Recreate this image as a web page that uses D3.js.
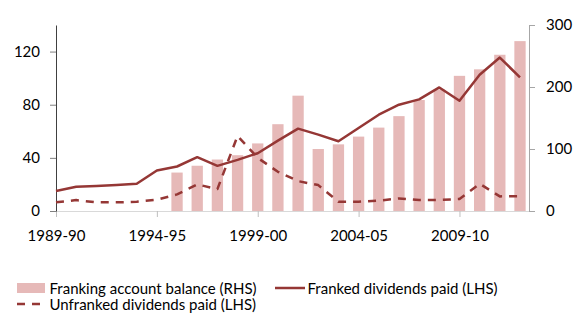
<!DOCTYPE html>
<html>
<head>
<meta charset="utf-8">
<script src="https://cdn.jsdelivr.net/npm/d3@7/dist/d3.min.js"></script>
<style>
  html, body { margin: 0; padding: 0; background: #fff; }
  svg { display: block; }
  text { font-family: Lato, "Open Sans", sans-serif; fill: #000; }
</style>
</head>
<body>
<svg id="chart" width="584" height="324"></svg>
<script>
// ---- Data ----
const categories = ["1989-90","1990-91","1991-92","1992-93","1993-94","1994-95","1995-96","1996-97",
  "1997-98","1998-99","1999-00","2000-01","2001-02","2002-03","2003-04","2004-05","2005-06",
  "2006-07","2007-08","2008-09","2009-10","2010-11","2011-12","2012-13"];
// Franking account balance (RHS), $b — no data before 1995-96
const frankingBalance = [null,null,null,null,null,null,62,73,83,90,109,140,186,100,107.5,120,134.5,153,179,196,218,228.5,252,274];
// Franked dividends paid (LHS), $b
const frankedDividends = [15,18.2,18.8,19.6,20.5,30.5,33.5,40.5,34,38.5,43.5,53,62,57.5,52.5,62.5,72.5,80,84,93,83,102.5,115.5,100.5];
// Unfranked dividends paid (LHS), $b
const unfrankedDividends = [6.5,8.2,6.5,6.5,7,8.5,12.5,20,16.5,56.5,40,29.5,22.5,19.5,7,7,7.8,9.5,8.3,8.3,9,20.5,11,11.2];
const xTickLabels = ["1989-90","1994-95","1999-00","2004-05","2009-10"];
const leftTicks = [0,40,80,120];
const rightTicks = [0,100,200,300];

// ---- Layout ----
const pLeft = 56, pRight = 529, pTop = 25, pBottom = 211;
const barColor = "#e6b9b8", lineColor = "#953735";

const svg = d3.select("#chart");

const x = d3.scalePoint().domain(categories).range([pLeft, 520]);
const yL = d3.scaleLinear().domain([0, 140]).range([pBottom, pTop]);
const yR = d3.scaleLinear().domain([0, 300]).range([pBottom, pTop]);
const barW = x.step() * 0.56;

// Bars
svg.append("g").selectAll("rect")
  .data(categories.map((c, i) => ({c, v: frankingBalance[i]})).filter(d => d.v != null))
  .join("rect")
  .attr("x", d => x(d.c) - barW / 2)
  .attr("y", d => yR(d.v))
  .attr("width", barW)
  .attr("height", d => yR(0) - yR(d.v))
  .attr("fill", barColor);

// Bottom axis
const xAxis = svg.append("g").attr("transform", `translate(0,${pBottom})`)
  .call(d3.axisBottom(x).tickValues(xTickLabels).tickSize(6).tickSizeOuter(0).tickPadding(13));
xAxis.select(".domain").attr("stroke", "#d9d9d9").attr("d", `M${pLeft},0.5H${pRight}`);
xAxis.selectAll(".tick line").attr("stroke", "#bfbfbf");
xAxis.selectAll(".tick text").attr("font-size", 15).attr("fill", "#000");

// Left axis
const yAxisL = svg.append("g").attr("transform", `translate(${pLeft},0)`)
  .call(d3.axisLeft(yL).tickValues(leftTicks).tickSize(6).tickSizeOuter(0).tickPadding(10));
yAxisL.select(".domain").attr("stroke", "#404040");
yAxisL.selectAll(".tick line").attr("stroke", "#808080");
yAxisL.selectAll(".tick text").attr("font-size", 15).attr("fill", "#000");

// Right axis
const yAxisR = svg.append("g").attr("transform", `translate(${pRight},0)`)
  .call(d3.axisRight(yR).tickValues(rightTicks).tickSize(6).tickSizeOuter(0).tickPadding(11));
yAxisR.select(".domain").attr("stroke", "#a6a6a6");
yAxisR.selectAll(".tick line").attr("stroke", "#a6a6a6");
yAxisR.selectAll(".tick text").attr("font-size", 15).attr("fill", "#000");

// Lines
const lineL = d3.line().x((d, i) => x(categories[i])).y(d => yL(d));
svg.append("path").datum(frankedDividends)
  .attr("d", lineL).attr("fill", "none").attr("stroke", lineColor).attr("stroke-width", 2.5)
  .attr("stroke-linejoin", "round");
svg.append("path").datum(unfrankedDividends)
  .attr("d", lineL).attr("fill", "none").attr("stroke", lineColor).attr("stroke-width", 2.5)
  .attr("stroke-dasharray", "8,7").attr("stroke-linejoin", "round");

// Legend
const lg = svg.append("g");
lg.append("rect").attr("x", 17).attr("y", 283).attr("width", 28).attr("height", 10).attr("fill", barColor);
lg.append("text").attr("x", 49.5).attr("y", 293.5).attr("font-size", 15).text("Franking account balance (RHS)");
lg.append("line").attr("x1", 275).attr("x2", 305).attr("y1", 288).attr("y2", 288)
  .attr("stroke", lineColor).attr("stroke-width", 2.5);
lg.append("text").attr("x", 307.5).attr("y", 293.5).attr("font-size", 15).text("Franked dividends paid (LHS)");
lg.append("line").attr("x1", 17).attr("x2", 41).attr("y1", 304).attr("y2", 304)
  .attr("stroke", lineColor).attr("stroke-width", 2.5).attr("stroke-dasharray", "8,7");
lg.append("text").attr("x", 49.5).attr("y", 310).attr("font-size", 15).text("Unfranked dividends paid (LHS)");
</script>
</body>
</html>
